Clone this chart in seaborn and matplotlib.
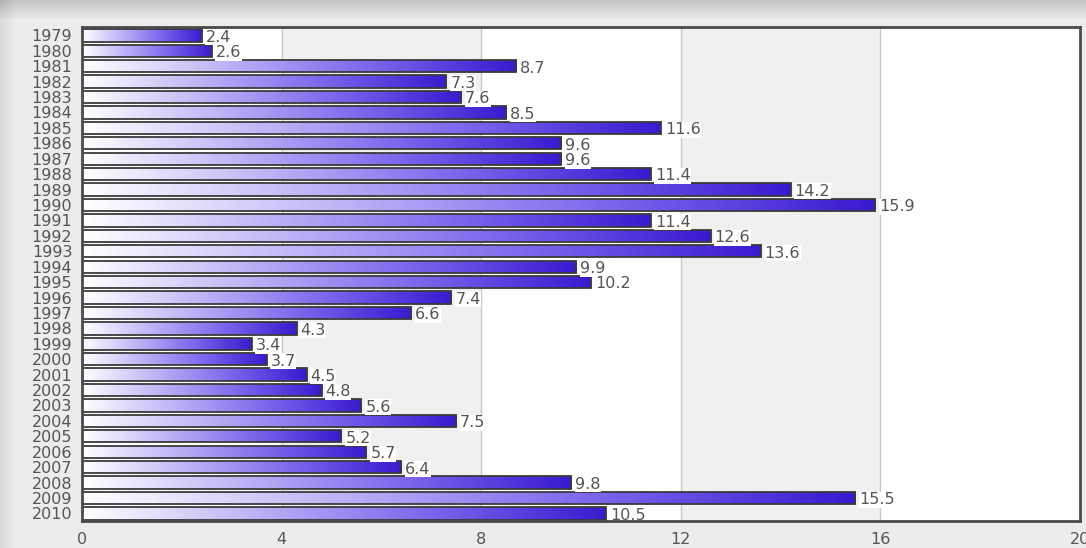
import numpy as np
import pandas as pd
import matplotlib
matplotlib.use("Agg")
import matplotlib.pyplot as plt
from matplotlib.colors import LinearSegmentedColormap
import seaborn as sns

years = [str(y) for y in range(1979, 2011)]
values = [2.4, 2.6, 8.7, 7.3, 7.6, 8.5, 11.6, 9.6, 9.6, 11.4, 14.2, 15.9,
          11.4, 12.6, 13.6, 9.9, 10.2, 7.4, 6.6, 4.3, 3.4, 3.7, 4.5, 4.8,
          5.6, 7.5, 5.2, 5.7, 6.4, 9.8, 15.5, 10.5]
x_ticks = [0, 4, 8, 12, 16, 20]

df = pd.DataFrame({"year": years, "value": values})

sns.set_theme(style="white")
plt.rcParams["font.family"] = ["DejaVu Sans"]

fig = plt.figure(figsize=(10.86, 5.48), dpi=100)
fig.patch.set_facecolor("#ebebeb")

# soft frame shadow behind the chart panel
bg = fig.add_axes([0, 0, 1, 1], zorder=-10)
h, w = 548, 1086
yy = np.arange(h)[:, None]
xx = np.arange(w)[None, :]
shade = np.full((h, w), 0.925)
shade -= 0.16 * np.clip(1 - yy / 20.0, 0, 1)
shade -= 0.07 * np.clip(1 - xx / 16.0, 0, 1)
bg.imshow(shade, cmap="gray", vmin=0, vmax=1, aspect="auto",
          extent=[0, 1, 0, 1], origin="upper")
bg.set_axis_off()

ax = fig.add_axes([0.0755, 0.049, 0.919, 0.902])

sns.barplot(data=df, x="value", y="year", orient="h", ax=ax,
            width=0.8, color="#5a40e0", zorder=3)

# alternating vertical bands and grid lines
for i, (a, b) in enumerate(zip(x_ticks[:-1], x_ticks[1:])):
    ax.axvspan(a, b, color="#ffffff" if i % 2 == 0 else "#f0f0f0", zorder=0, lw=0)
for t in x_ticks[1:-1]:
    ax.axvline(t, color="#c8c8c8", lw=1.0, zorder=1)

cmap = LinearSegmentedColormap.from_list(
    "bar_grad", ["#ffffff", "#bcb2f6", "#7c64ec", "#3a1ad0"])
grad = np.linspace(0, 1, 256)[None, :]

for patch, val in zip(ax.patches, values):
    x0, y0 = patch.get_x(), patch.get_y()
    bw, bh = patch.get_width(), patch.get_height()
    img = ax.imshow(grad, cmap=cmap, aspect="auto",
                    extent=[x0, x0 + bw, y0 + bh, y0], zorder=3,
                    interpolation="bilinear")
    img.set_clip_path(patch)
    patch.set_facecolor("none")
    patch.set_edgecolor("#3a3a3a")
    patch.set_linewidth(1.3)
    patch.set_zorder(4)
    ax.text(val + 0.08, y0 + bh / 2 + 0.12, f"{val:.1f}", va="center", ha="left",
            fontsize=11.5, color="#555555", zorder=5,
            bbox=dict(facecolor="white", edgecolor="none", pad=0.4))

ax.set_ylim(len(years) - 0.5, -0.55)
ax.set_xlim(0, 20)

ax.set_xticks(x_ticks)
ax.set_xticklabels([str(t) for t in x_ticks])
ax.tick_params(axis="both", length=0, labelcolor="#555555")
ax.tick_params(axis="x", pad=8, labelsize=11.5)
ax.tick_params(axis="y", pad=7, labelsize=11.5)
ax.set_xlabel("")
ax.set_ylabel("")

for side, sp in ax.spines.items():
    sp.set_visible(True)
    sp.set_color("#4a4a4a")
    sp.set_linewidth(2.0)
    sp.set_zorder(6)

fig.savefig("out.png", dpi=100, facecolor=fig.get_facecolor())
